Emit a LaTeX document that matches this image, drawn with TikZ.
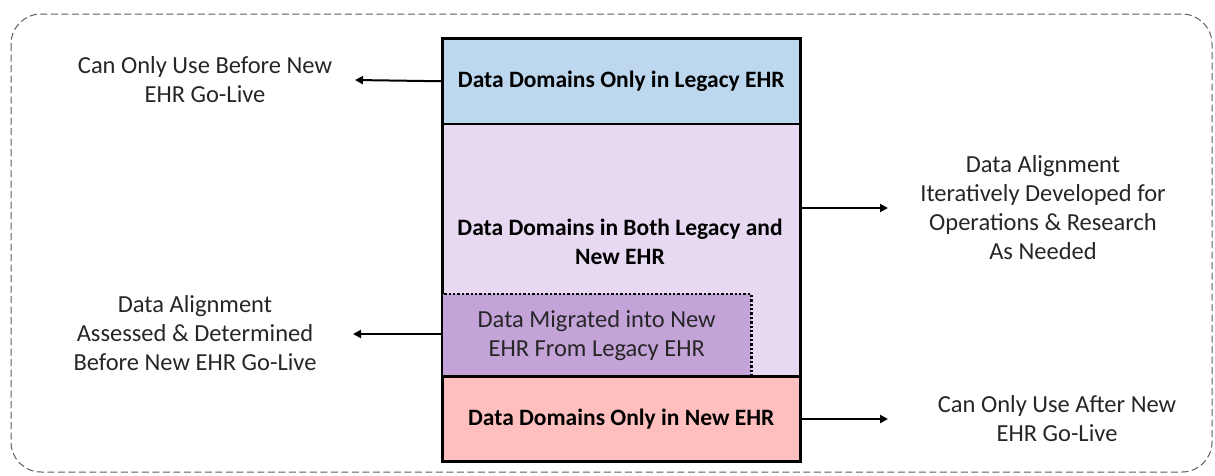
\documentclass[tikz,border=0pt]{standalone}
\usepackage{fontspec}
\setmainfont{Carlito}
\usetikzlibrary{arrows.meta}
\definecolor{legacyblue}{HTML}{BDD7EE}
\definecolor{bothlav}{HTML}{E6D9F1}
\definecolor{migpurple}{HTML}{C4A3D8}
\definecolor{newpink}{HTML}{FFBFBF}
\definecolor{txtgray}{HTML}{262626}
\definecolor{framegray}{HTML}{5E5E5E}
\begin{document}
\begin{tikzpicture}[x=1pt,y=-1pt,
  every node/.style={font=\fontsize{24.5}{29}\selectfont, text=txtgray, align=center, inner sep=0pt},
  band/.style={draw=black, line width=1.5pt, minimum width=357pt, anchor=north west},
  boldtxt/.style={font=\bfseries\fontsize{23.5}{28.5}\selectfont, text=black},
  arr/.style={-{Triangle[length=8pt,width=8pt]}, line width=2pt, black},
  frame/.style={draw=framegray, line width=1pt, dash pattern=on 7pt off 3.5pt, rounded corners=30pt}
]
\useasboundingbox (0,0) rectangle (1215,475);
\draw[frame] (11,14) rectangle (1212,472);

% bands
\node[band, fill=legacyblue, minimum height=85pt] (legacy) at (442,38) {};
\node[band, fill=bothlav, minimum height=253pt] (both) at (442,123) {};
\node[band, fill=newpink, minimum height=84pt] (newehr) at (442,376) {};
\node[anchor=north west, fill=migpurple, minimum width=309pt, minimum height=82pt] (migr) at (442,294) {};
\draw[line width=2.4pt, dash pattern=on 2.4pt off 2pt] (migr.south east) -- (migr.north east) -- (migr.north west);
\draw[line width=1.5pt] (442,376) -- (799,376);
\draw[line width=2.5pt] (legacy.north west) rectangle (newehr.south east);

% box texts
\node[boldtxt] (tlegacy) at (legacy.center) {Data Domains Only in Legacy EHR};
\node[boldtxt] (tboth) at (620,242) {Data Domains in Both Legacy and\\New EHR};
\node (tmigr) at (migr.center) {Data Migrated into New\\EHR From Legacy EHR};
\node[boldtxt] (tnew) at (newehr.center) {Data Domains Only in New EHR};

% side texts
\node (l1) at (205,80) {Can Only Use Before New\\EHR Go-Live};
\node (l2) at (195,333) {Data Alignment\\Assessed \& Determined\\Before New EHR Go-Live};
\node (r1) at (1043,208) {Data Alignment\\Iteratively Developed for\\Operations \& Research\\As Needed};
\node (r2) at (1057,419) {Can Only Use After New\\EHR Go-Live};

% arrow ends
\coordinate (a1) at (355,80);
\coordinate (a2) at (353,334);
\coordinate (a3) at (888,208);
\coordinate (a4) at (888,419);

\draw[arr] (legacy.west) -- (a1);
\draw[arr] (migr.west |- a2) -- (a2);
\draw[arr] (both.east |- a3) -- (a3);
\draw[arr] (newehr.east |- a4) -- (a4);
\end{tikzpicture}
\end{document}
